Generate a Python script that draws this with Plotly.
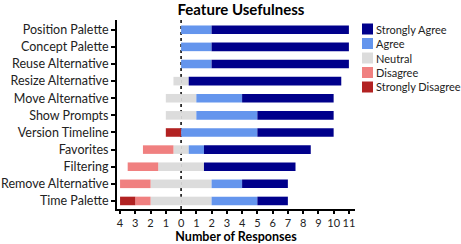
import plotly.graph_objects as go

categories = ["Position Palette", "Concept Palette", "Reuse Alternative", "Resize Alternative",
              "Move Alternative", "Show Prompts", "Version Timeline", "Favorites", "Filtering",
              "Remove Alternative", "Time Palette"]
strongly_disagree = [0, 0, 0, 0, 0, 0, 1, 0, 0, 0, 1]
disagree = [0, 0, 0, 0, 0, 0, 0, 2, 2, 2, 1]
neutral = [0, 0, 0, 1, 2, 2, 0, 1, 3, 4, 4]
agree = [2, 2, 2, 0, 3, 4, 5, 1, 0, 2, 3]
strongly_agree = [9, 9, 9, 10, 6, 5, 5, 7, 6, 3, 2]
x_ticks = list(range(-4, 12))
x_tick_labels = [str(abs(v)) for v in x_ticks]
legend_names = ["Strongly Agree", "Agree", "Neutral", "Disagree", "Strongly Disagree"]

colors = {
    "Strongly Agree": "#00008B",
    "Agree": "#6495ED",
    "Neutral": "#DCDCDC",
    "Disagree": "#F08080",
    "Strongly Disagree": "#B22222",
}

W, H = 461, 244
ML, MR, MT, MB = 117, 106, 20, 35
PW, PH = W - ML - MR, H - MT - MB

font = "Lato"
fig = go.Figure()

def add(name, vals, sign):
    fig.add_trace(go.Bar(
        y=categories, x=[sign * v for v in vals], orientation="h", name=name,
        marker=dict(color=colors[name], line=dict(width=0)),
        width=0.5, showlegend=False,
    ))

add("Neutral", [v / 2 for v in neutral], -1)
add("Neutral", [v / 2 for v in neutral], 1)
add("Disagree", disagree, -1)
add("Agree", agree, 1)
add("Strongly Disagree", strongly_disagree, -1)
add("Strongly Agree", strongly_agree, 1)

fig.add_shape(type="line", x0=0, x1=0, y0=0, y1=1, xref="x", yref="paper",
              line=dict(color="black", width=1.5, dash="dot"), layer="below")

# manual legend
def px_x(p):
    return (p - ML) / PW

def px_y(p):
    return 1 - (p - MT) / PH

for i, name in enumerate(legend_names):
    cy = 29 + i * 14.5
    fig.add_shape(type="rect", xref="paper", yref="paper",
                  x0=px_x(362), x1=px_x(373), y0=px_y(cy + 5.5), y1=px_y(cy - 5.5),
                  fillcolor=colors[name], line=dict(width=0))
    fig.add_annotation(text=name, xref="paper", yref="paper", x=px_x(374), y=px_y(cy),
                       xanchor="left", yanchor="middle", showarrow=False,
                       font=dict(family=font, size=11, color="#222"))

fig.update_layout(
    barmode="relative",
    width=W, height=H,
    margin=dict(l=ML, r=MR, t=MT, b=MB, autoexpand=False),
    plot_bgcolor="white", paper_bgcolor="white",
    font=dict(family=font, size=12, color="#222"),
    title=dict(text="<b>Feature Usefulness</b>", x=241 / W, xref="container", xanchor="center",
               y=1 - 10 / H, yref="container", yanchor="middle", font=dict(size=15, color="black")),
    showlegend=False,
    bargap=0.5,
)
fig.update_xaxes(range=[-4.2, 11.4], tickvals=x_ticks, ticktext=x_tick_labels, tickangle=0,
                 showline=True, linecolor="black", linewidth=2, ticks="outside",
                 ticklen=3, tickwidth=2, tickcolor="black", showgrid=False, zeroline=False,
                 title=dict(text="<b>Number of Responses</b>", font=dict(size=12.5, color="black"),
                            standoff=2),
                 tickfont=dict(size=11))
fig.update_yaxes(categoryorder="array", categoryarray=categories, autorange=False,
                 range=[10.47, -0.57],
                 showline=True, linecolor="black", linewidth=2, ticks="outside",
                 ticklen=4, tickwidth=2, tickcolor="black", showgrid=False, zeroline=False,
                 tickfont=dict(size=12.5))

fig.write_html("out.html", post_script="document.body.style.margin='0';",
               config={"displayModeBar": False})
